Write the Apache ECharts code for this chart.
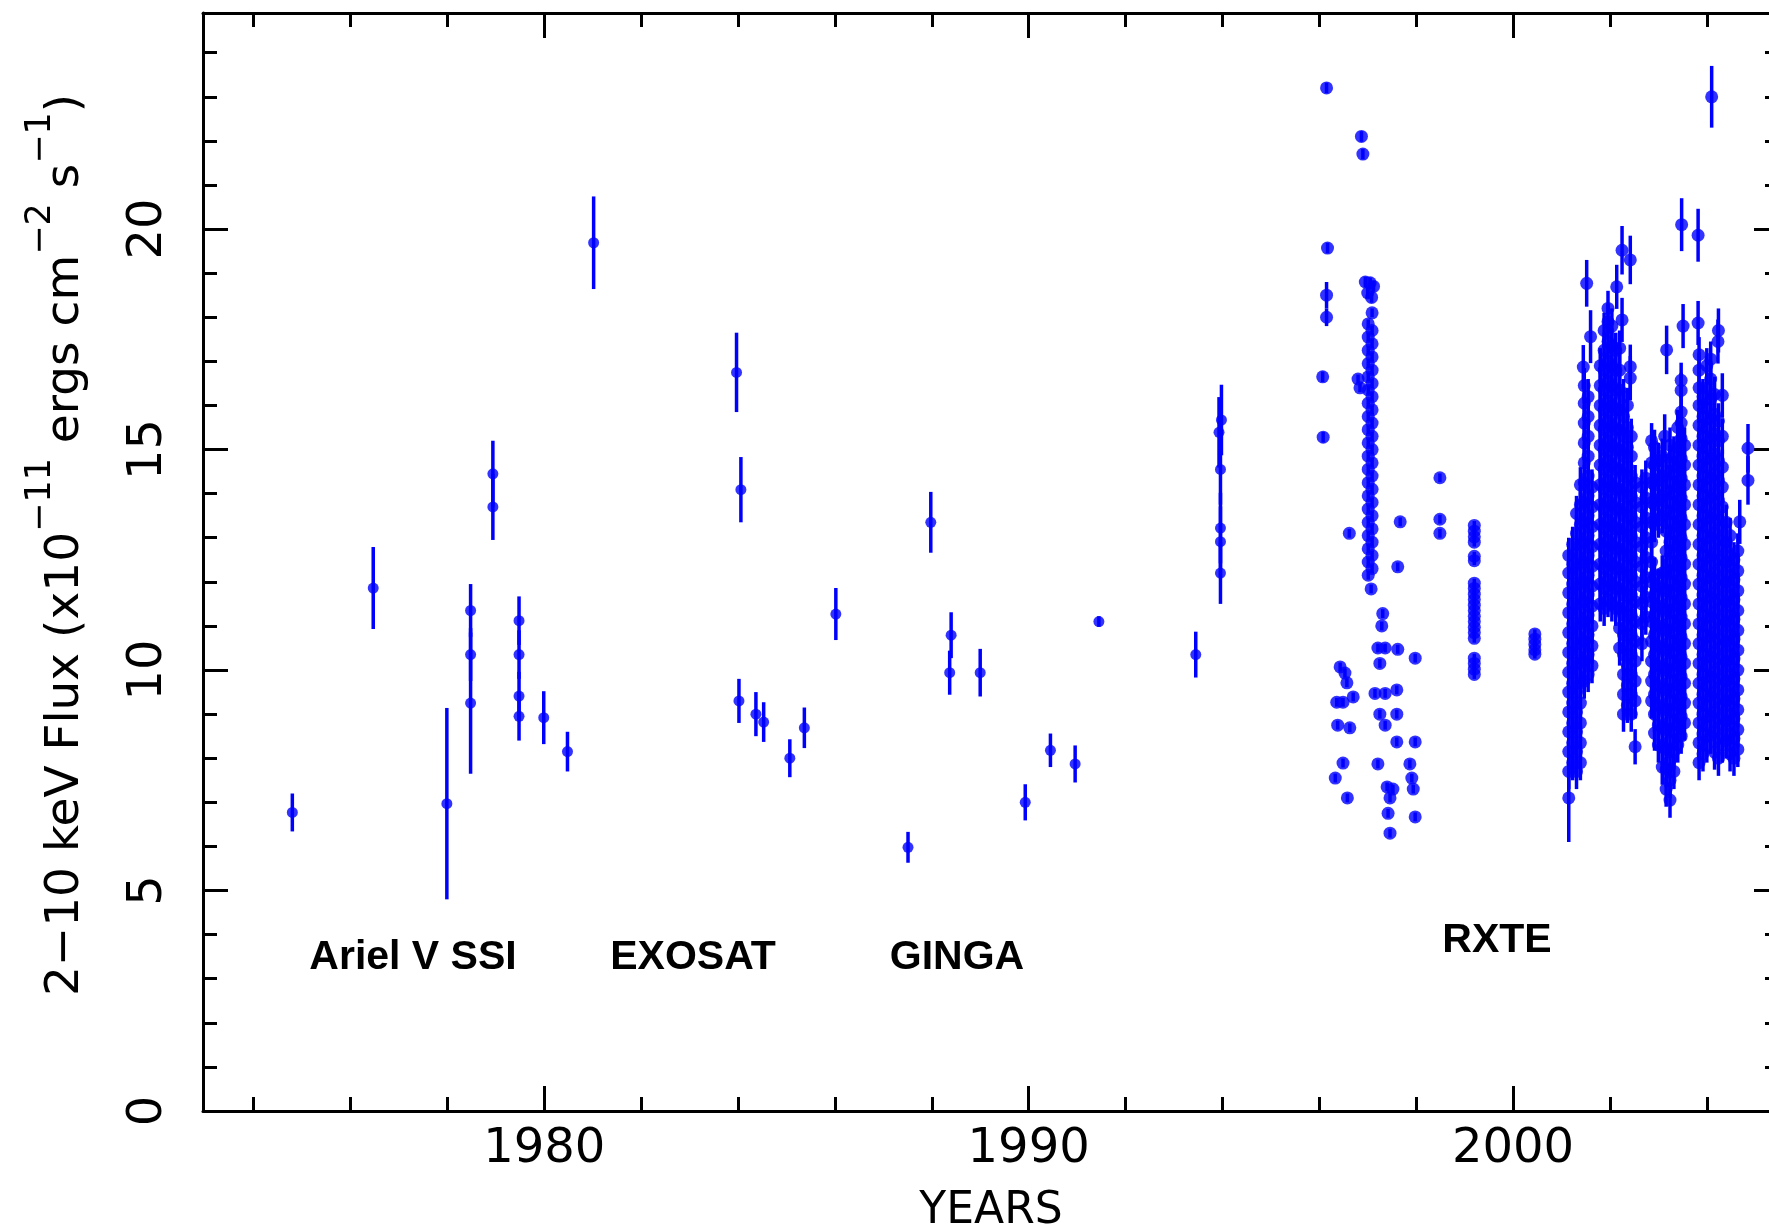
<!DOCTYPE html>
<html><head><meta charset="utf-8">
<script src="https://cdn.jsdelivr.net/npm/echarts@6/dist/echarts.min.js"></script>
<style>html,body{margin:0;padding:0;background:#fff}#chart{width:1769px;height:1231px}</style>
</head><body><div id="chart"></div>
<script>
// ---- tick values ----
const xMajorTicks = [1980, 1990, 2000];
const xMinorTicks = [1974, 1976, 1978, 1982, 1984, 1986, 1988, 1992, 1994, 1996, 1998, 2002, 2004];
const yMajorTicks = [0, 5, 10, 15, 20];
const yMinorTicks = [1, 2, 3, 4, 6, 7, 8, 9, 11, 12, 13, 14, 16, 17, 18, 19, 21, 22, 23, 24];

// ---- data: [year, flux, error] ----
const arielV = [
  [1974.80, 6.77, 0.43], [1976.47, 11.86, 0.93], [1977.99, 6.97, 2.17],
  [1978.48, 11.35, 0.6], [1978.48, 10.35, 0.6], [1978.48, 9.25, 1.6],
  [1978.94, 14.45, 0.75], [1978.94, 13.70, 0.75],
  [1979.48, 11.12, 0.55], [1979.48, 10.35, 0.55], [1979.48, 9.41, 0.55], [1979.48, 8.95, 0.55],
  [1979.99, 8.92, 0.6], [1980.48, 8.15, 0.45], [1981.02, 19.69, 1.05]
];
const exosat = [
  [1983.97, 16.75, 0.9], [1984.06, 14.09, 0.74], [1984.02, 9.30, 0.5], [1984.37, 9.00, 0.5],
  [1984.53, 8.82, 0.45], [1985.07, 8.00, 0.43], [1985.37, 8.69, 0.46], [1986.02, 11.27, 0.59]
];
const ginga = [
  [1987.51, 5.98, 0.35], [1987.98, 13.35, 0.69], [1988.40, 10.79, 0.52], [1988.37, 9.94, 0.5],
  [1989.00, 9.94, 0.54], [1989.93, 7.00, 0.41], [1990.45, 8.18, 0.38], [1990.96, 7.87, 0.42],
  [1991.45, 11.10, 0.12]
];
const misc1993 = [
  [1993.45, 10.35, 0.52], [1993.98, 15.67, 0.8], [1993.93, 15.39, 0.8], [1993.96, 14.55, 0.8],
  [1993.96, 13.22, 0.8], [1993.96, 12.91, 0.8], [1993.96, 12.20, 0.7]
];
const rxteEarly = [
  [1996.15, 23.20, 0.12], [1996.17, 19.57, 0.12], [1996.15, 18.50, 0.3], [1996.15, 18.00, 0.2],
  [1996.07, 16.65, 0.12], [1996.08, 15.28, 0.12], [1996.87, 22.10, 0.12], [1996.90, 21.70, 0.12],
  [1996.62, 13.10, 0.1],
  [1996.95, 18.80, 0.12], [1997.05, 18.78, 0.12], [1997.12, 18.70, 0.12], [1997.00, 18.55, 0.12],
  [1997.08, 18.45, 0.12], [1996.80, 16.60, 0.1], [1996.84, 16.40, 0.1], [1997.07, 11.84, 0.1],
  [1996.43, 10.07, 0.1], [1996.53, 9.93, 0.1], [1996.57, 9.71, 0.1], [1996.36, 9.27, 0.1],
  [1996.49, 9.27, 0.1], [1996.70, 9.39, 0.1], [1996.38, 8.75, 0.1], [1996.63, 8.69, 0.1],
  [1996.49, 7.89, 0.1], [1996.33, 7.55, 0.1], [1996.58, 7.10, 0.1],
  [1997.31, 11.28, 0.1], [1997.29, 11.00, 0.1], [1997.21, 10.50, 0.1], [1997.36, 10.50, 0.1],
  [1997.25, 10.15, 0.1], [1997.15, 9.47, 0.1], [1997.36, 9.47, 0.1], [1997.60, 9.55, 0.1],
  [1997.25, 9.00, 0.1], [1997.36, 8.75, 0.1], [1997.60, 9.00, 0.1], [1997.21, 7.87, 0.1],
  [1997.40, 7.35, 0.1], [1997.52, 7.30, 0.1], [1997.46, 7.10, 0.1], [1997.42, 6.75, 0.1],
  [1997.46, 6.30, 0.1], [1997.60, 8.37, 0.1],
  [1997.62, 10.47, 0.1], [1997.98, 10.27, 0.1], [1997.98, 8.37, 0.1], [1997.87, 7.87, 0.1],
  [1997.91, 7.55, 0.1], [1997.94, 7.30, 0.1], [1997.98, 6.67, 0.1], [1997.62, 12.34, 0.1],
  [1997.67, 13.36, 0.1],
  [1998.49, 14.36, 0.1], [1998.49, 13.42, 0.1], [1998.49, 13.10, 0.1]
];
const rxtePeaks = [
  [2001.15, 7.10, 1.0], [2001.52, 18.77, 0.53], [2001.60, 17.56, 0.6], [2001.45, 16.87, 0.5],
  [2002.14, 18.69, 0.5], [2002.25, 19.52, 0.55], [2002.42, 19.30, 0.55], [2002.25, 17.94, 0.5],
  [2002.42, 16.88, 0.5], [2002.42, 16.62, 0.5], [2003.17, 17.26, 0.55], [2003.13, 15.30, 0.5],
  [2003.48, 20.10, 0.6], [2003.51, 17.80, 0.5], [2003.82, 19.86, 0.6], [2003.82, 17.87, 0.5],
  [2004.10, 23.00, 0.7], [2004.24, 17.70, 0.5], [2004.23, 17.45, 0.5], [2004.32, 16.23, 0.5],
  [2004.68, 13.36, 0.5], [2004.85, 15.03, 0.55], [2004.85, 14.30, 0.55]
];
// RXTE columns of closely spaced observations: [year, error, fluxes]
const rxteColumns = [
  [1997.01, 0.1, [17.85, 17.55, 17.25, 16.95, 16.65, 16.35, 16.05, 15.75, 15.45, 15.15, 14.85, 14.55, 14.25, 13.95, 13.65, 13.35, 13.05, 12.75, 12.45, 12.15]],
  [1997.09, 0.1, [18.1, 17.7, 17.4, 17.1, 16.8, 16.5, 16.2, 15.9, 15.6, 15.3, 15.0, 14.7, 14.4, 14.1, 13.8, 13.5, 13.2, 12.9, 12.6, 12.3]],
  [1999.20, 0.1, [13.28, 13.15, 13.02, 12.9, 12.58, 12.48, 11.97, 11.85, 11.72, 11.6, 11.47, 11.35, 11.22, 11.1, 10.97, 10.85, 10.72, 10.27, 10.15, 10.02, 9.9]],
  [2000.45, 0.1, [10.82, 10.7, 10.58, 10.46, 10.36]],
  [2001.15, 0.4, [7.7, 8.15, 8.6, 9.05, 9.5, 9.95, 10.4, 10.85, 11.3, 11.75, 12.2, 12.6]],
  [2001.23, 0.4, [7.9, 8.35, 8.8, 9.25, 9.7, 10.15, 10.6, 11.05, 11.5, 11.95, 12.4, 12.85]],
  [2001.31, 0.4, [7.7, 8.15, 8.6, 9.05, 9.5, 9.95, 10.4, 10.85, 11.3, 11.75, 12.2, 12.65, 13.1, 13.55]],
  [2001.39, 0.4, [7.9, 8.35, 8.8, 9.25, 9.7, 10.15, 10.6, 11.05, 11.5, 11.95, 12.4, 12.85, 13.3, 13.75, 14.2]],
  [2001.47, 0.4, [9.75, 10.2, 10.65, 11.1, 11.55, 12.0, 12.45, 12.9, 13.35, 13.8, 14.25, 14.7, 15.15, 15.6, 16.05, 16.45]],
  [2001.55, 0.4, [9.9, 10.35, 10.8, 11.25, 11.7, 12.15, 12.6, 13.05, 13.5, 13.95, 14.4, 14.85, 15.3, 15.75, 16.2]],
  [2001.63, 0.4, [10.1, 10.55, 11.0, 11.45, 11.9, 12.35, 12.8, 13.25, 13.7, 14.15]],
  [2001.80, 0.4, [11.5, 11.95, 12.4, 12.85, 13.3, 13.75, 14.2, 14.65, 15.1, 15.55, 16.0, 16.45, 16.9]],
  [2001.88, 0.4, [11.4, 11.85, 12.3, 12.75, 13.2, 13.65, 14.1, 14.55, 15.0, 15.45, 15.9, 16.35, 16.8, 17.25, 17.7]],
  [2001.96, 0.4, [11.6, 12.05, 12.5, 12.95, 13.4, 13.85, 14.3, 14.75, 15.2, 15.65, 16.1, 16.55, 17.0, 17.45, 17.9, 18.2]],
  [2002.04, 0.4, [11.5, 11.95, 12.4, 12.85, 13.3, 13.75, 14.2, 14.65, 15.1, 15.55, 16.0, 16.45, 16.9, 17.35, 17.8]],
  [2002.12, 0.4, [11.4, 11.85, 12.3, 12.75, 13.2, 13.65, 14.1, 14.55, 15.0, 15.45, 15.9, 16.35, 16.8, 17.25]],
  [2002.20, 0.4, [10.5, 10.95, 11.4, 11.85, 12.3, 12.75, 13.2, 13.65, 14.1, 14.55, 15.0, 15.45, 15.9, 16.35, 16.8, 17.3]],
  [2002.28, 0.4, [9.0, 9.45, 9.9, 10.35, 10.8, 11.25, 11.7, 12.15, 12.6, 13.05, 13.5, 13.95, 14.4, 14.85, 15.3, 15.75, 16.2]],
  [2002.36, 0.4, [9.2, 9.65, 10.1, 10.55, 11.0, 11.45, 11.9, 12.35, 12.8, 13.25, 13.7, 14.15, 14.6, 15.05, 15.5, 16.0]],
  [2002.44, 0.4, [9.0, 9.45, 9.9, 10.35, 10.8, 11.25, 11.7, 12.15, 12.6, 13.05, 13.5, 13.95, 14.4, 14.85, 15.3]],
  [2002.52, 0.4, [8.26, 9.3, 9.75, 10.2, 10.65, 11.1, 11.55, 12.0, 12.45, 12.9, 13.35, 13.8, 14.25]],
  [2002.66, 0.4, [10.6, 11.05, 11.5, 11.9, 12.35, 12.8, 13.25, 13.7, 14.15]],
  [2002.74, 0.4, [11.2, 11.65, 12.1, 12.55, 13.0, 13.45, 13.9, 14.35]],
  [2002.86, 0.4, [9.3, 9.75, 10.2, 10.65, 11.1, 11.55, 12.0, 12.45, 12.9, 13.35, 13.8, 14.25, 14.7, 15.2]],
  [2002.92, 0.4, [8.57, 9.0, 9.45, 9.9, 10.35, 10.8, 11.25, 11.7, 12.15, 13.3, 13.75, 14.2, 14.65, 15.05]],
  [2003.00, 0.4, [8.3, 8.75, 9.2, 9.65, 10.1, 10.55, 11.0, 11.45, 11.9, 13.4, 13.85, 14.3, 14.75]],
  [2003.08, 0.4, [7.8, 8.25, 8.7, 9.15, 9.6, 10.05, 10.5, 10.95, 11.4, 11.85, 12.2, 13.5, 13.95, 14.4, 14.85]],
  [2003.16, 0.4, [7.3, 7.75, 8.2, 8.65, 9.1, 9.55, 10.0, 10.45, 10.9, 11.35, 11.8, 12.25, 12.7, 13.15, 13.6, 14.05, 14.5]],
  [2003.24, 0.4, [7.05, 7.5, 7.95, 8.4, 8.85, 9.3, 9.75, 10.2, 10.65, 11.1, 11.55, 12.0, 12.45, 12.9, 13.35, 13.8, 14.25, 14.7, 15.1]],
  [2003.32, 0.4, [7.7, 8.15, 8.6, 9.05, 9.5, 9.95, 10.4, 10.85, 11.3, 11.75, 12.2, 12.65, 13.1, 13.55, 14.0, 14.45, 14.9]],
  [2003.40, 0.4, [8.3, 8.75, 9.2, 9.65, 10.1, 10.55, 11.0, 11.45, 11.9, 12.35, 12.8, 13.25, 13.7, 14.15, 14.6, 15.05, 15.5]],
  [2003.47, 0.4, [8.5, 8.95, 9.4, 9.85, 10.3, 10.75, 11.2, 11.65, 12.1, 12.55, 13.0, 13.45, 13.9, 14.35, 14.8, 15.25, 15.6, 15.85, 16.34, 16.57]],
  [2003.54, 0.4, [8.8, 9.25, 9.7, 10.15, 10.6, 11.05, 11.5, 11.95, 12.4, 12.85, 13.3, 13.75, 14.2, 14.65, 15.1]],
  [2003.84, 0.4, [7.9, 8.35, 8.8, 9.25, 9.7, 10.15, 10.6, 11.05, 11.5, 11.95, 12.4, 12.85, 13.3, 13.75, 14.2, 14.65, 15.1, 15.55, 16.0, 16.4, 16.8, 17.15]],
  [2003.92, 0.4, [8.1, 8.55, 9.0, 9.45, 9.9, 10.35, 10.8, 11.25, 11.7, 12.15, 12.6, 13.05, 13.5, 13.95, 14.4, 14.85, 15.3, 15.75, 16.2]],
  [2004.00, 0.4, [8.3, 8.75, 9.2, 9.65, 10.1, 10.55, 11.0, 11.45, 11.9, 12.35, 12.8, 13.25, 13.7, 14.15, 14.6, 15.05, 15.5, 15.95, 16.4, 16.9]],
  [2004.08, 0.4, [8.5, 8.95, 9.4, 9.85, 10.3, 10.75, 11.2, 11.65, 12.1, 12.55, 13.0, 13.45, 13.9, 14.35, 14.8, 15.25, 15.7, 16.15, 16.6, 17.05]],
  [2004.16, 0.4, [8.14, 8.6, 9.05, 9.5, 9.95, 10.4, 10.85, 11.3, 11.75, 12.2, 12.65, 13.1, 13.55, 14.0, 14.45, 14.9, 15.35, 15.8, 16.25]],
  [2004.24, 0.4, [8.0, 8.45, 8.9, 9.35, 9.8, 10.25, 10.7, 11.15, 11.6, 12.05, 12.5, 12.95, 13.4, 13.85, 14.3, 14.75, 15.2, 15.65]],
  [2004.32, 0.4, [8.3, 8.75, 9.2, 9.65, 10.1, 10.55, 11.0, 11.45, 11.9, 12.35, 12.8, 13.25, 13.7, 14.15, 14.6, 15.3]],
  [2004.40, 0.4, [8.4, 8.85, 9.3, 9.75, 10.2, 10.65, 11.1, 11.55, 12.0, 12.45, 12.9, 13.35]],
  [2004.48, 0.4, [8.1, 8.55, 9.0, 9.45, 9.9, 10.35, 10.8, 11.25, 11.7, 12.15, 12.6, 13.05]],
  [2004.56, 0.4, [8.0, 8.45, 8.9, 9.35, 9.8, 10.25, 10.7, 11.15, 11.6, 12.05, 12.5]],
  [2004.64, 0.4, [8.2, 8.65, 9.1, 9.55, 10.0, 10.45, 10.9, 11.35, 11.8, 12.25, 12.7]]
];

const instrumentLabels = ['Ariel V SSI', 'EXOSAT', 'GINGA', 'RXTE'];

// ---- build ----
const rxteDense = [];
rxteColumns.forEach(c => c[2].forEach(v => rxteDense.push([c[0], v, c[1]])));
const earlyPoints = [].concat(arielV, exosat, ginga, misc1993);
const rxtePoints = [].concat(rxteEarly, rxtePeaks, rxteDense);
const allPoints = earlyPoints.concat(rxtePoints);

const X_MIN = 1972.956, X_MAX = 2005.49, Y_MIN = 0, Y_MAX = 24.9;
const BLUE = '#0000ff';
const tickFont = 'DejaVu Sans';

function xAx(pos, ticks, len, withLine, withLabels) {
  return {
    type: 'value', position: pos, min: X_MIN, max: X_MAX,
    axisLine: { show: withLine, onZero: false, lineStyle: { color: '#000', width: 3 } },
    axisTick: { show: true, inside: true, length: len, customValues: ticks, lineStyle: { color: '#000', width: 3 } },
    axisLabel: withLabels ? { show: true, customValues: ticks, formatter: v => String(Math.round(v)),
      fontSize: 48, fontFamily: tickFont, fontWeight: 'normal', color: '#000', margin: 15 } : { show: false },
    splitLine: { show: false }
  };
}
function yAx(pos, ticks, len, withLine, withLabels) {
  return {
    type: 'value', position: pos, min: Y_MIN, max: Y_MAX,
    axisLine: { show: withLine, onZero: false, lineStyle: { color: '#000', width: 3 } },
    axisTick: { show: true, inside: true, length: len, customValues: ticks, lineStyle: { color: '#000', width: 3 } },
    axisLabel: withLabels ? { show: true, customValues: ticks, formatter: v => String(Math.round(v)), rotate: 90,
      fontSize: 48, fontFamily: tickFont, fontWeight: 'normal', color: '#000', margin: 30 } : { show: false },
    splitLine: { show: false }
  };
}

function errorBars(data) {
  return {
    type: 'custom', xAxisIndex: 0, yAxisIndex: 0, data: data, silent: true, z: 2,
    encode: { x: 0, y: 1 },
    renderItem: function (params, api) {
      const x = api.value(0), y = api.value(1), e = api.value(2);
      const a = api.coord([x, y + e]);
      const b = api.coord([x, y - e]);
      return { type: 'line', shape: { x1: a[0], y1: a[1], x2: b[0], y2: b[1] },
               style: { stroke: BLUE, lineWidth: 3.5 } };
    }
  };
}
function points(data, size) {
  return {
    type: 'scatter', xAxisIndex: 0, yAxisIndex: 0, silent: true, z: 3,
    data: data.map(p => [p[0], p[1]]),
    symbol: 'circle', symbolSize: size, itemStyle: { color: BLUE }
  };
}

const chart = echarts.init(document.getElementById('chart'), null, { renderer: 'canvas' });
chart.setOption({
  animation: false,
  backgroundColor: '#fff',
  grid: { left: 203, top: 13, right: -10, bottom: 120, containLabel: false, outerBoundsMode: 'none' },
  xAxis: [
    xAx('bottom', xMajorTicks, 25, true, true),
    xAx('bottom', xMinorTicks, 14, false, false),
    xAx('top', xMajorTicks, 25, true, false),
    xAx('top', xMinorTicks, 14, false, false)
  ],
  yAxis: [
    yAx('left', yMajorTicks, 25, true, true),
    yAx('left', yMinorTicks, 14, false, false),
    yAx('right', yMajorTicks, 25, true, false),
    yAx('right', yMinorTicks, 14, false, false)
  ],
  series: [
    errorBars(allPoints),
    points(earlyPoints, 11),
    points(rxtePoints, 13)
  ],
  graphic: [
    { type: 'text', x: 56, y: 545, rotation: Math.PI / 2, silent: true,
      style: {
        text: '{a|2\u221210 keV Flux (x10}{b|\u221211}{a| ergs cm}{b|\u22122}{a| s}{b|\u22121}{a|)}',
        align: 'center', verticalAlign: 'middle', fill: '#000',
        rich: {
          a: { fontSize: 47, fontFamily: tickFont, lineHeight: 66, verticalAlign: 'bottom', fill: '#000' },
          b: { fontSize: 35, fontFamily: tickFont, lineHeight: 35, verticalAlign: 'top', fill: '#000' }
        }
      } },
    { type: 'text', x: 991, y: 1212, silent: true,
      style: { text: 'YEARS', font: '44px "DejaVu Sans"', fill: '#000', align: 'center', verticalAlign: 'middle' } },
    { type: 'text', x: 413, y: 958, silent: true,
      style: { text: instrumentLabels[0], font: 'bold 41px "Liberation Sans"', fill: '#000', align: 'center', verticalAlign: 'middle' } },
    { type: 'text', x: 693, y: 958, silent: true,
      style: { text: instrumentLabels[1], font: 'bold 41px "Liberation Sans"', fill: '#000', align: 'center', verticalAlign: 'middle' } },
    { type: 'text', x: 957, y: 958, silent: true,
      style: { text: instrumentLabels[2], font: 'bold 41px "Liberation Sans"', fill: '#000', align: 'center', verticalAlign: 'middle' } },
    { type: 'text', x: 1497, y: 941, silent: true,
      style: { text: instrumentLabels[3], font: 'bold 41px "Liberation Sans"', fill: '#000', align: 'center', verticalAlign: 'middle' } }
  ]
});
</script>
</body></html>
